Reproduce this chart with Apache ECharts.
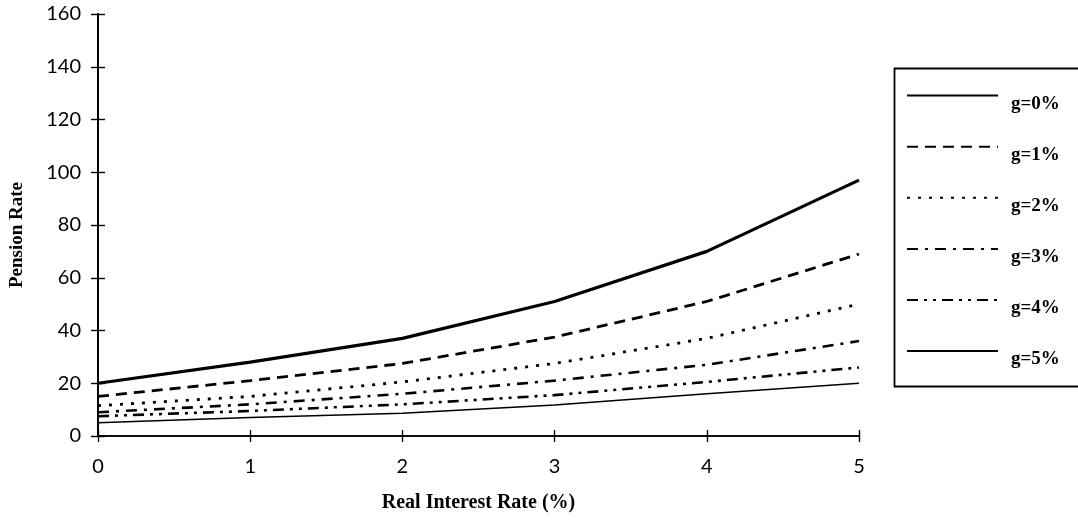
<!DOCTYPE html>
<html>
<head>
<meta charset="utf-8">
<script src="https://cdn.jsdelivr.net/npm/echarts@6/dist/echarts.min.js"></script>
<style>html,body{margin:0;padding:0;background:#fff;}#c{width:1078px;height:523px;}</style>
</head>
<body>
<div id="c"></div>
<script>
const categories = ['0', '1', '2', '3', '4', '5'];
const seriesNames = ['g=0%', 'g=1%', 'g=2%', 'g=3%', 'g=4%', 'g=5%'];
const g0 = [20, 28, 37, 51, 70, 97];
const g1 = [15, 21, 27.5, 37.5, 51, 69];
const g2 = [11.5, 15, 20.5, 27.5, 37, 50];
const g3 = [9, 12, 16, 21, 27, 36];
const g4 = [7.5, 9.5, 12, 15.5, 20.5, 26];
const g5 = [5, 7, 8.6, 11.8, 16, 20];
const yTicks = [0, 20, 40, 60, 80, 100, 120, 140, 160];

const values = [g0, g1, g2, g3, g4, g5];
const styles = [
  {width: 3.2, type: 'solid'},
  {width: 2.8, type: [11, 7]},
  {width: 2.8, type: [3, 8]},
  {width: 2.6, type: [11, 7, 3, 7]},
  {width: 2.6, type: [11, 6, 3, 6, 3, 6]},
  {width: 1.5, type: 'solid'}
];

const chart = echarts.init(document.getElementById('c'), null, {renderer: 'canvas'});
const tickFont = {fontFamily: 'Lato, "DejaVu Sans", sans-serif', fontSize: 20, color: '#000'};
const serif = '"Liberation Serif", "Times New Roman", serif';

const axisCommonX = {
  type: 'category', data: categories, boundaryGap: false,
  axisLine: {lineStyle: {color: '#000', width: 1.6}}
};
const axisCommonY = {
  type: 'value', min: 0, max: 160, interval: 20,
  splitLine: {show: false},
  axisLine: {show: true, lineStyle: {color: '#000', width: 1.8}}
};

chart.setOption({
  animation: false,
  backgroundColor: '#fff',
  grid: {left: 98, right: 219, top: 14, bottom: 87, containLabel: false},
  xAxis: [
    Object.assign({}, axisCommonX, {
      name: 'Real Interest Rate (%)', nameLocation: 'middle', nameGap: 57,
      nameTextStyle: {fontFamily: serif, fontWeight: 'bold', fontSize: 20, color: '#000'},
      axisTick: {show: true, length: 6, lineStyle: {color: '#000', width: 1.4}},
      axisLabel: Object.assign({margin: 21}, tickFont)
    }),
    Object.assign({}, axisCommonX, {
      position: 'bottom',
      axisTick: {show: true, inside: true, length: 6, lineStyle: {color: '#000', width: 1.4}},
      axisLabel: {show: false}
    })
  ],
  yAxis: [
    Object.assign({}, axisCommonY, {
      name: 'Pension Rate', nameLocation: 'middle', nameGap: 71, nameRotate: 90,
      nameTextStyle: {fontFamily: serif, fontWeight: 'bold', fontSize: 19, color: '#000', padding: [0, 20, 0, 0]},
      axisTick: {show: true, length: 7, lineStyle: {color: '#000', width: 1.4}},
      axisLabel: Object.assign({margin: 17, formatter: function (v) { return yTicks.indexOf(v) >= 0 ? String(v) : ''; }}, tickFont)
    }),
    Object.assign({}, axisCommonY, {
      position: 'left',
      axisTick: {show: true, inside: true, length: 7, lineStyle: {color: '#000', width: 1.4}},
      axisLabel: {show: false}
    })
  ],
  legend: {
    orient: 'vertical', left: 906, top: 90,
    itemWidth: 91, itemHeight: 14, itemGap: 28,
    padding: 0,
    data: seriesNames,
    itemStyle: {opacity: 0, borderWidth: 0},
    formatter: function (n) { return '{t|' + n + '}'; },
    textStyle: {
      color: '#000',
      rich: {t: {fontFamily: serif, fontWeight: 'bold', fontSize: 19, color: '#000', padding: [16, 0, 0, 8]}}
    },
    inactiveColor: '#000'
  },
  graphic: [{
    type: 'rect', left: 892, top: 66,
    shape: {width: 200, height: 318},
    style: {fill: 'none', stroke: '#000', lineWidth: 1.8},
    silent: true, z: -1
  }],
  series: values.map(function (v, i) {
    return {
      name: seriesNames[i], type: 'line', data: v,
      xAxisIndex: 0, yAxisIndex: 0,
      symbol: 'none', smooth: false,
      lineStyle: {color: '#000', width: styles[i].width, type: styles[i].type},
      itemStyle: {color: '#000'}
    };
  })
});
</script>
</body>
</html>
